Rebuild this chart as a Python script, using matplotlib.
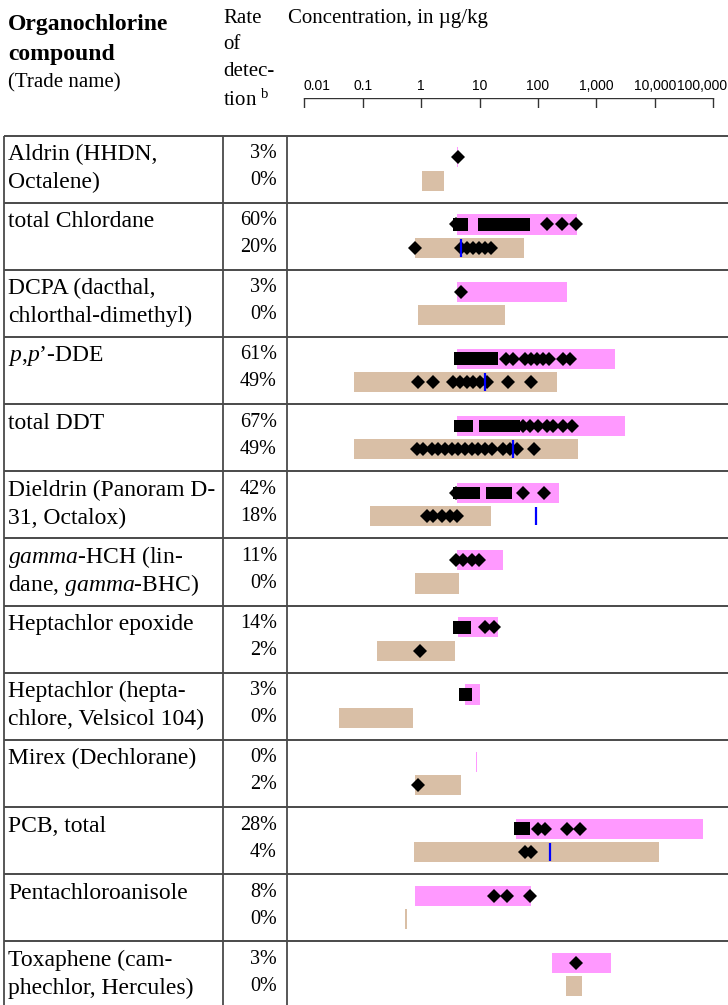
import numpy as np
import matplotlib.pyplot as plt
from matplotlib.transforms import offset_copy

plt.rcParams['font.family'] = ['Liberation Serif', 'DejaVu Serif']
plt.rcParams['mathtext.fontset'] = 'custom'
plt.rcParams['mathtext.rm'] = 'Liberation Serif'
plt.rcParams['mathtext.it'] = 'Liberation Serif:italic'
plt.rcParams['mathtext.bf'] = 'Liberation Serif:bold'

# compound names, one entry per table row (second line may be empty)
names = [
    ("Aldrin (HHDN,", "Octalene)"),
    ("total Chlordane", ""),
    ("DCPA (dacthal,", "chlorthal-dimethyl)"),
    (r"$\it{p}$,$\it{p}$’-DDE", ""),
    ("total DDT", ""),
    ("Dieldrin (Panoram D-", "31, Octalox)"),
    (r"$\it{gamma}$-HCH (lin-", r"dane, $\it{gamma}$-BHC)"),
    ("Heptachlor epoxide", ""),
    ("Heptachlor (hepta-", "chlore, Velsicol 104)"),
    ("Mirex (Dechlorane)", ""),
    ("PCB, total", ""),
    ("Pentachloroanisole", ""),
    ("Toxaphene (cam-", "phechlor, Hercules)"),
]

# rate of detection, percent
sed_rate = [3, 60, 3, 61, 67, 42, 11, 14, 3, 0, 28, 8, 3]
fish_rate = [0, 20, 0, 49, 49, 18, 0, 2, 0, 2, 4, 0, 0]

# concentration ranges, ug/kg
sed_range = [(4.1, 4.27), (4.1, 460), (4.1, 310), (4.1, 2100), (4.1, 3040),
             (4.1, 226), (4.1, 25.5), (4.32, 20.4), (5.6, 10.2), (8.85, 9.2),
             (42, 65800), (0.79, 75), (175, 1750)]
fish_range = [(1.05, 2.5), (0.79, 57.5), (0.88, 27.5), (0.072, 209), (0.072, 478),
              (0.135, 15.5), (0.79, 4.44), (0.175, 3.84), (0.039, 0.72), (0.79, 4.75),
              (0.74, 11800), (0.52, 0.58), (301, 560)]

# spans packed so densely with detections that they merge into a solid block
sed_dense = [[], [(3.5, 6.3), (9.5, 73)], [], [(3.65, 20.7)], [(3.65, 7.7), (9.8, 49)],
             [(3.55, 10.2), (12.9, 35.5)], [], [(3.5, 7.1)], [(4.44, 7.4)], [],
             [(38.8, 73)], [], []]

# individual detections
sed_hits = [
    [4.2],
    [3.95, 141, 254, 447],
    [4.86],
    [28.3, 36.9, 59.8, 75, 94.9, 120, 152, 264, 353],
    [56, 73, 101, 141, 183, 271, 377],
    [3.95, 56, 126],
    [3.95, 5.26, 7.3, 9.9],
    [12.4, 17.6],
    [],
    [],
    [101, 132, 310, 523],
    [17.6, 29.8, 73],
    [447],
]
fish_hits = [
    [],
    [0.8, 4.9, 6.0, 7.6, 9.6, 12.3, 15.8],
    [],
    [0.87, 1.58, 3.55, 4.62, 6.0, 7.8, 10.2, 13.2, 31, 75.9],
    [0.84, 1.09, 1.51, 1.96, 2.56, 3.33, 4.32, 5.6, 7.3, 9.5, 12.4, 16.1, 25.5, 33, 43, 86],
    [1.24, 1.61, 2.25, 3.12, 4.06],
    [],
    [0.95],
    [],
    [0.87],
    [59.8, 75],
    [],
    [],
]

# guideline values (blue ticks)
guideline = [None, 4.75, None, 12.2, 36.9, 92, None, None, None, None, 160, None, None]

scale_ticks = [0.01, 0.1, 1, 10, 100, 1000, 10000, 100000]
scale_labels = ["0.01", "0.1", "1", "10", "100", "1,000", "10,000", "100,000"]

PINK = '#ff99ff'
TAN = '#d9bfa6'
LINE = '#4a4a4a'

W, H = 728, 1005
fig = plt.figure(figsize=(W / 100, H / 100), dpi=100)

# table frame and text work in pixel units
tab = fig.add_axes([0, 0, 1, 1])
tab.set_xlim(0, W)
tab.set_ylim(H, 0)
tab.axis('off')

top0 = 135.5
row_h = 67.15
n = len(names)

for i in range(n + 1):
    y = top0 + i * row_h
    tab.plot([3.5, W], [y, y], color=LINE, lw=1.4, solid_capstyle='butt')
for x in (3.5, 222.5, 287):
    tab.plot([x, x], [top0, H], color=LINE, lw=1.3, solid_capstyle='butt')

# header
tab.text(8, 30, "Organochlorine", fontsize=17, fontweight='bold', va='baseline')
tab.text(8, 60, "compound", fontsize=17, fontweight='bold', va='baseline')
tab.text(8, 87, "(Trade name)", fontsize=15, va='baseline')
for txt, yb in zip(["Rate", "of", "detec-", r"tion $^{\mathrm{b}}$"], [22.7, 49.3, 76, 106]):
    tab.text(223, yb, txt, fontsize=15, va='baseline')
tab.text(288, 22.7, "Concentration, in µg/kg", fontsize=15, va='baseline')

for i, (l1, l2) in enumerate(names):
    yt = top0 + i * row_h
    tab.text(8, yt + 24.5, l1, fontsize=17, va='baseline')
    if l2:
        tab.text(8, yt + 52.5, l2, fontsize=17, va='baseline')
    tab.text(277, yt + 22.5, f"{sed_rate[i]}%", fontsize=14.5, va='baseline', ha='right')
    tab.text(277, yt + 49.5, f"{fish_rate[i]}%", fontsize=14.5, va='baseline', ha='right')

# log concentration axis: 0.01 sits at x=304.3 px, 58.43 px per decade
x0, dec = 304.3, 58.43
xl = (10 ** (-2 + (288 - x0) / dec), 10 ** (-2 + (W - x0) / dec))

ax = fig.add_axes([288 / W, 0, (W - 288) / W, (H - top0) / H])
ax.set_xscale('log')
ax.set_xlim(*xl)
ax.set_ylim((H - top0) / row_h, 0)
ax.axis('off')

ys, yf, bh = 0.325, 0.672, 0.30
for i in range(n):
    lo, hi = sed_range[i]
    ax.barh(i + ys, hi - lo, left=lo, height=bh, color=PINK, lw=0)
    lo, hi = fish_range[i]
    ax.barh(i + yf, hi - lo, left=lo, height=bh, color=TAN, lw=0)
    for lo, hi in sed_dense[i]:
        ax.barh(i + ys, hi - lo, left=lo, height=0.19, color='black', lw=0)
    if sed_hits[i]:
        ax.plot(sed_hits[i], [i + ys] * len(sed_hits[i]), 'D', ms=7.3, color='black', mew=0)
    if fish_hits[i]:
        ax.plot(fish_hits[i], [i + yf] * len(fish_hits[i]), 'D', ms=7.3, color='black', mew=0)
    if guideline[i] is not None:
        ax.vlines(guideline[i], i + yf - 0.135, i + yf + 0.135, color='#0000ff', lw=1.6)

# scale bar above the table
sax = fig.add_axes([288 / W, (H - 108) / H, (W - 288) / W, 10 / H])
sax.set_xscale('log')
sax.set_xlim(*xl)
sax.set_ylim(0, 1)
sax.axis('off')
sax.plot([scale_ticks[0], scale_ticks[-1]], [1, 1], color='#333333', lw=1)
sax.vlines(scale_ticks, 0, 1, color='#333333', lw=1)
for k, (t, lab) in enumerate(zip(scale_ticks, scale_labels)):
    if k == 0:
        tr, ha = offset_copy(sax.transData, fig, x=-1, units='dots'), 'left'
    elif k == len(scale_ticks) - 1:
        tr, ha = offset_copy(sax.transData, fig, x=14, units='dots'), 'right'
    else:
        tr, ha = sax.transData, 'center'
    sax.text(t, 2.15, lab, transform=tr, ha=ha, va='center', fontsize=10,
             family='Liberation Sans', clip_on=False)

fig.savefig('out.png', dpi=100)
